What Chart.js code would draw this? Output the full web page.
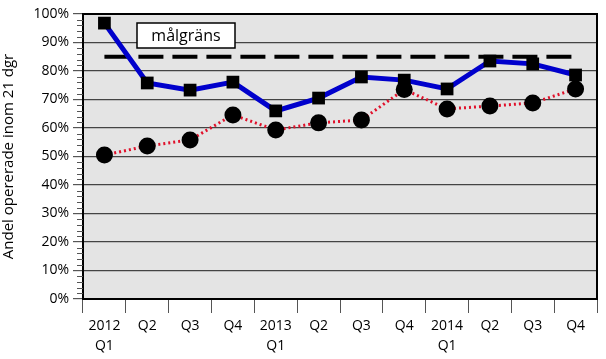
<!DOCTYPE html>
<html><head><meta charset="utf-8">
<script src="https://cdn.jsdelivr.net/npm/chart.js@4/dist/chart.umd.min.js"></script>
<style>html,body{margin:0;padding:0;background:#fff}#w{width:606px;height:359px}</style>
</head><body><div id="w"><canvas id="c" width="606" height="359"></canvas></div>
<script>
const categories = [['2012','Q1'],'Q2','Q3','Q4',['2013','Q1'],'Q2','Q3','Q4',['2014','Q1'],'Q2','Q3','Q4'];
const blueSeries = [96.8, 75.8, 73.3, 76.1, 66.0, 70.5, 77.9, 76.8, 73.7, 83.5, 82.5, 78.6];
const redSeries  = [50.5, 53.7, 55.8, 64.6, 59.3, 61.8, 62.8, 73.5, 66.7, 67.7, 68.8, 73.7];
const targetValue = 85;
const targetLabel = 'målgräns';
const yAxisTitle = 'Andel opererade inom 21 dgr';
const FONT = "'Open Sans', sans-serif";

const framePlugin = {
  id: 'frame',
  beforeDraw(chart) {
    const {ctx, chartArea: a} = chart;
    ctx.save();
    ctx.fillStyle = '#e4e4e4';
    ctx.fillRect(a.left, a.top, a.right - a.left, a.bottom - a.top);
    ctx.restore();
  },
  afterDatasetsDraw(chart) {
    const {ctx, chartArea: a} = chart;
    ctx.save();
    ctx.strokeStyle = '#000'; ctx.lineWidth = 2;
    ctx.strokeRect(a.left, a.top, a.right - a.left, a.bottom - a.top);
    const y = chart.scales.y;
    ctx.lineWidth = 1; ctx.strokeStyle = '#555';
    for (let v = 0; v <= 100; v += 2) {
      if (v % 10 === 0) continue;
      const py = Math.round(y.getPixelForValue(v)) + 0.5;
      ctx.beginPath(); ctx.moveTo(a.left - 6, py); ctx.lineTo(a.left, py); ctx.stroke();
    }
    const bx = a.left + 54, by = a.top + 9, bw = 98, bh = 25;
    ctx.fillStyle = '#fff'; ctx.fillRect(bx, by, bw, bh);
    ctx.strokeStyle = '#000'; ctx.lineWidth = 1.5; ctx.strokeRect(bx, by, bw, bh);
    ctx.fillStyle = '#000'; ctx.font = '16px ' + FONT;
    ctx.textAlign = 'center'; ctx.textBaseline = 'middle';
    ctx.fillText(targetLabel, bx + bw / 2, by + bh / 2 + 1);
    ctx.restore();
  }
};

new Chart(document.getElementById('c'), {
  type: 'line',
  data: {
    labels: categories,
    datasets: [
      {
        data: categories.map(() => targetValue),
        borderColor: '#000', borderWidth: 4, borderDash: [25, 9],
        pointRadius: 0, fill: false, order: 3
      },
      {
        data: redSeries,
        borderColor: '#e0102a', borderWidth: 3, borderDash: [2, 3],
        pointStyle: 'circle', pointRadius: 8.5, pointBackgroundColor: '#000',
        pointBorderColor: '#000', pointBorderWidth: 0, fill: false, order: 2
      },
      {
        data: blueSeries,
        borderColor: '#0000cc', borderWidth: 5,
        pointStyle: 'rect', pointRadius: 9, pointBackgroundColor: '#000',
        pointBorderColor: '#000', pointBorderWidth: 0, fill: false, order: 1
      }
    ]
  },
  options: {
    responsive: false, animation: false,
    layout: {padding: {left: 0, right: 4, top: 14, bottom: 0}},
    plugins: {legend: {display: false}, tooltip: {enabled: false}},
    scales: {
      x: {
        offset: true,
        grid: {offset: true, drawOnChartArea: false, drawTicks: true, tickLength: 14, color: '#555', lineWidth: 1},
        border: {display: true, color: '#000', width: 2},
        ticks: {color: '#000', font: {family: FONT, size: 14, lineHeight: 1.45}, padding: 3, maxRotation: 0, autoSkip: false},
        afterFit(s) { s.height = 60; }
      },
      y: {
        min: 0, max: 100,
        grid: {
          color: c => (c.tick && c.tick.value === 0) ? '#000' : '#444',
          lineWidth: 1.2, tickLength: 10, tickColor: '#555'
        },
        border: {display: true, color: '#000', width: 2},
        ticks: {stepSize: 10, color: '#000', font: {family: FONT, size: 14}, padding: 4,
          callback: v => v + '%'},
        title: {display: true, text: yAxisTitle, color: '#000', font: {family: FONT, size: 15}, padding: {top: 0, bottom: 2}},
        afterFit(s) { s.width = 83; }
      }
    }
  },
  plugins: [framePlugin]
});
</script>
</body></html>
